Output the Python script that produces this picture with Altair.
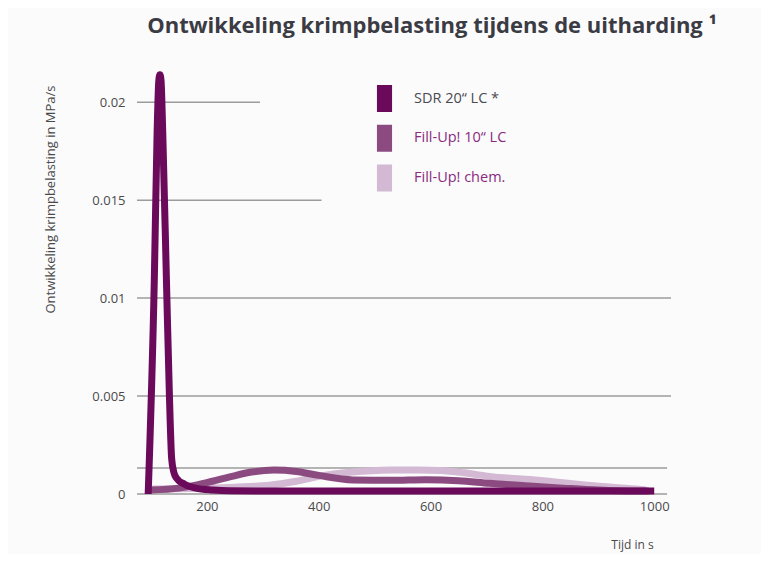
import altair as alt
import pandas as pd

title_text = "Ontwikkeling krimpbelasting tijdens de uitharding ¹"
y_title = "Ontwikkeling krimpbelasting in MPa/s"
x_title = "Tijd in s"

series_names = ["SDR 20“ LC *", "Fill-Up! 10“ LC", "Fill-Up! chem."]
series_colors = ["#6b0a5b", "#8c4b80", "#d3b9d3"]

# SDR 20" LC *
sdr_t = [95, 106, 111, 114, 116, 118, 121, 128, 133, 137, 141, 146, 160, 180, 210, 240, 1000]
sdr_v = [0, 0.011, 0.0185, 0.0211, 0.0214, 0.0211, 0.0185, 0.0105, 0.005, 0.0018, 0.0011,
         0.0008, 0.0005, 0.0003, 0.0002, 0.00016, 0.00015]

# Fill-Up! 10" LC
fu10_t = [100, 150, 180, 210, 241, 280, 320, 360, 400, 461, 530, 591, 650, 705, 770, 837, 900, 968, 990]
fu10_v = [0.0002, 0.0003, 0.00045, 0.00065, 0.00087, 0.00112, 0.00122, 0.00115, 0.00095, 0.00072,
          0.0007, 0.00073, 0.00068, 0.00055, 0.00042, 0.0003, 0.0002, 0.00015, 0.00015]

# Fill-Up! chem.
chem_t = [102, 150, 200, 250, 312, 360, 400, 460, 530, 580, 618, 660, 705, 793, 880, 968, 985]
chem_v = [0.00025, 0.00027, 0.0003, 0.00035, 0.00045, 0.00065, 0.0009, 0.00112, 0.00122, 0.00123,
          0.0012, 0.00108, 0.0009, 0.0007, 0.00045, 0.00025, 0.0002]

y_ticks = [0, 0.005, 0.01, 0.015, 0.02]
x_ticks = [200, 400, 600, 800, 1000]

grid_y = [0, 0.00133, 0.005, 0.01, 0.015, 0.02]
grid_x_end = [1023, 1023, 1030, 1030, 405, 295]

x_domain = [75, 1030]
y_domain = [0, 0.022]

frames = []
for name, ts, vs in [(series_names[0], sdr_t, sdr_v),
                     (series_names[1], fu10_t, fu10_v),
                     (series_names[2], chem_t, chem_v)]:
    frames.append(pd.DataFrame({"series": name, "t": ts, "v": vs, "idx": range(len(ts))}))
lines_df = pd.concat(frames, ignore_index=True)

grid_df = pd.DataFrame({"y": grid_y, "x1": [x_domain[0]] * len(grid_y), "x2": grid_x_end})
legend_df = pd.DataFrame({"series": series_names})

font = "Open Sans"

x_scale = alt.Scale(domain=x_domain, nice=False, zero=False)
y_scale = alt.Scale(domain=y_domain, nice=False)
color_scale = alt.Scale(domain=series_names, range=series_colors)

x_axis = alt.Axis(values=x_ticks, format="d", grid=False, ticks=False, domain=False, labelFont=font,
                  labelFontSize=13, labelColor="#4a4a4a", labelPadding=6, title=x_title,
                  titleFont=font, titleFontSize=12, titleFontWeight="normal", titleColor="#4a4a4a",
                  titleX=495, titleY=50, titleAlign="center", titleBaseline="middle")
y_axis = alt.Axis(values=y_ticks, grid=False, ticks=False, domain=False, format=".3~f",
                  labelFont=font, labelFontSize=13, labelColor="#4a4a4a", labelPadding=12,
                  title=y_title, titleFont=font, titleFontSize=13, titleFontWeight="normal",
                  titleColor="#4a4a4a", titleAngle=-90, titleX=-87, titleY=136,
                  titleAlign="center", titleBaseline="middle")

grid = alt.Chart(grid_df).mark_rule(color="#9c9c9c", strokeWidth=1.5).encode(
    x=alt.X("x1:Q", scale=x_scale, axis=x_axis),
    x2="x2:Q",
    y=alt.Y("y:Q", scale=y_scale, axis=y_axis),
)

def series_layer(name):
    return alt.Chart(lines_df).transform_filter(alt.datum.series == name).mark_line(
        strokeWidth=7, interpolate="monotone", strokeCap="butt", strokeJoin="round"
    ).encode(
        x=alt.X("t:Q", scale=x_scale),
        y=alt.Y("v:Q", scale=y_scale),
        color=alt.Color("series:N", scale=color_scale, legend=None),
        order="idx:Q",
    )

main = alt.layer(grid, series_layer(series_names[2]), series_layer(series_names[1]),
                 series_layer(series_names[0]))

leg_y = alt.Y("series:N", scale=alt.Scale(type="point", domain=series_names, range=[35.5, 115], padding=0),
              axis=None)
leg_sym = alt.Chart(legend_df).mark_point(
    shape="M-0.56,-1H0.56V1H-0.56Z", filled=True, size=729, opacity=1, strokeWidth=0
).encode(
    x=alt.value(247.5),
    y=leg_y,
    color=alt.Color("series:N", scale=color_scale, legend=None),
)
leg_txt = alt.Chart(legend_df).mark_text(align="left", baseline="middle", font=font, fontSize=14.5).encode(
    x=alt.value(277),
    y=leg_y,
    text="series:N",
    color=alt.condition(alt.datum.series == series_names[0], alt.value("#4a4a52"), alt.value("#8a2a7e")),
)
legend = alt.layer(leg_sym, leg_txt)

chart = alt.layer(main, legend).resolve_scale(y="independent", color="independent").properties(
    width=534,
    height=431,
    autosize=alt.AutoSizeParams(type="none"),
    padding={"left": 129, "top": 55, "right": 90, "bottom": 60},
    background="#fbfbfc",
    title=alt.Title(text=title_text, font=font, fontSize=22, fontWeight="bold", color="#3b3b44",
                    anchor="middle", frame="group", dx=28, offset=25),
).configure_view(stroke=None)

chart.save("out.html", embed_options={"renderer": "svg", "actions": False})
